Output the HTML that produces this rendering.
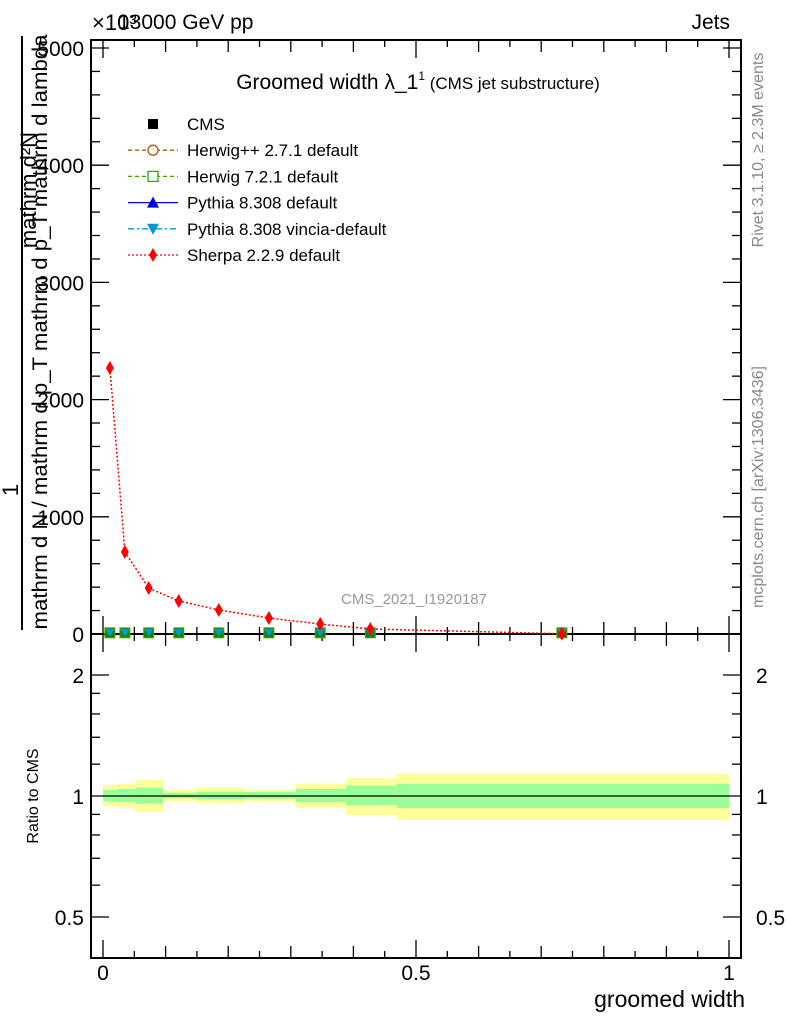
<!DOCTYPE html>
<html><head><meta charset="utf-8"><style>
body{margin:0;background:#fff;font-family:"Liberation Sans",sans-serif}
svg text{font-family:"Liberation Sans",sans-serif}
</style></head><body>
<svg id="c" width="786" height="1024" viewBox="0 0 786 1024" xmlns="http://www.w3.org/2000/svg">
<text x="92" y="30" font-size="22">×10³</text>
<text x="118" y="29" font-size="21">13000 GeV pp</text>
<text x="730" y="29" font-size="21" text-anchor="end">Jets</text>
<text x="418" y="89" font-size="21" text-anchor="middle">Groomed width λ_1<tspan font-size="12" dy="-9">1</tspan><tspan font-size="17" dy="9"> (CMS jet substructure)</tspan></text>
<text x="414" y="604" font-size="15" fill="#999" text-anchor="middle">CMS_2021_I1920187</text>
<text transform="translate(763,150) rotate(-90)" font-size="16" fill="#888" text-anchor="middle">Rivet 3.1.10, ≥ 2.3M events</text>
<text transform="translate(763,487) rotate(-90)" font-size="16" fill="#888" text-anchor="middle">mcplots.cern.ch [arXiv:1306.3436]</text>
<g>
<text transform="translate(36,190) rotate(-90)" font-size="22" text-anchor="middle">mathrm d²N</text>
<text transform="translate(18,490) rotate(-90)" font-size="22" text-anchor="middle">1</text>
<line x1="22" y1="36" x2="22" y2="630" stroke="#000" stroke-width="2"/>
<text transform="translate(47,332) rotate(-90)" font-size="21" text-anchor="middle" textLength="595" lengthAdjust="spacingAndGlyphs">mathrm d N / mathrm d p_T mathrm d p_T mathrm d lambda</text>
</g>
<text transform="translate(38,796) rotate(-90)" font-size="16" text-anchor="middle">Ratio to CMS</text>
<text x="745" y="1007" font-size="23" text-anchor="end">groomed width</text>
<g id="main"></g><g id="ratio"></g><g id="legend"></g>
</svg>
<script>
const cmsX=[0.011,0.035,0.073,0.121,0.185,0.265,0.347,0.427,0.733];
const cmsY=[10,10,10,10,10,10,10,10,10];
const sherpaX=[0.011,0.035,0.073,0.121,0.185,0.265,0.347,0.427,0.733];
const sherpaY=[2270,700,392,282,205,136,85,43,2];
const bandEdges=[0,0.021,0.051,0.096,0.149,0.227,0.308,0.388,0.469,1.0];
const yellowHi=[1.065,1.073,1.096,1.035,1.047,1.037,1.073,1.108,1.136];
const yellowLo=[0.943,0.937,0.914,0.972,0.959,0.972,0.935,0.897,0.871];
const greenHi=[1.035,1.041,1.049,1.019,1.025,1.023,1.041,1.061,1.073];
const greenLo=[0.970,0.966,0.957,0.987,0.981,0.985,0.966,0.948,0.934];
const yTicks=[0,1000,2000,3000,4000,5000];
const yTickLabels=["0","1000","2000","3000","4000","5000"];
const rTicks=[0.5,1,2];
const rTickLabels=["0.5","1","2"];
const xTickLabels=["0","0.5","1"];
const NS="http://www.w3.org/2000/svg";
const L=91,R=741,T=40,B=634,RT=634,RB=958;
const X=v=>103+v*626;
const Y=v=>634-v*0.1172;
const RY=v=>796-Math.log2(v)*121;
function el(p,t,a){const e=document.createElementNS(NS,t);for(const k in a)e.setAttribute(k,a[k]);p.appendChild(e);return e;}
const m=document.getElementById('main'),r=document.getElementById('ratio'),lg=document.getElementById('legend');
bandEdges.slice(0,-1).forEach((e,i)=>{
 const x1=X(e),x2=X(bandEdges[i+1]);
 const y=el(r,'rect',{x:x1,y:RY(yellowHi[i]),width:x2-x1,height:RY(yellowLo[i])-RY(yellowHi[i]),fill:'#ffff99'});
 
 
 const g=el(r,'rect',{x:x1,y:RY(greenHi[i]),width:x2-x1,height:RY(greenLo[i])-RY(greenHi[i]),fill:'#99ff99'});
 
 
});
el(r,'line',{x1:X(0),x2:X(1),y1:RY(1),y2:RY(1),stroke:'#000','stroke-width':1.3});
[[T,B],[RT,RB]].forEach(([t,b])=>{const f=el(m,'rect',{x:L,y:t,width:R-L,height:b-t,fill:'none',stroke:'#000','stroke-width':2});
 
 });
for(let i=0;i<=20;i++){const v=i*0.05,len=i%10==0?18:(i%2==0?12:7);
 [[B,-1],[T,1],[RB,-1],[RT,1]].forEach(([y0,d])=>el(m,'line',{x1:X(v),x2:X(v),y1:y0,y2:y0+d*len,stroke:'#000','stroke-width':1.3}));}
xTickLabels.forEach((s,i)=>{const t=el(m,'text',{x:X(i*0.5),y:980,'font-size':21,'text-anchor':'middle'});t.textContent=s;
 
 });
for(let v=0;v<=5000;v+=200){const len=v%1000==0?18:9;const y=Y(v);if(y<T)continue;
 el(m,'line',{x1:L,x2:L+len,y1:y,y2:y,stroke:'#000','stroke-width':1.3});el(m,'line',{x1:R,x2:R-len,y1:y,y2:y,stroke:'#000','stroke-width':1.3});}
yTicks.forEach((v,i)=>{const t=el(m,'text',{x:84,y:Y(v)+8,'font-size':21,'text-anchor':'end'});t.textContent=yTickLabels[i];
 
 });
[0.5,0.6,0.7,0.8,0.9,1,1.2,1.4,1.6,1.8,2].forEach(v=>{const len=rTicks.includes(v)?18:9;const y=RY(v);
 el(m,'line',{x1:L,x2:L+len,y1:y,y2:y,stroke:'#000','stroke-width':1.3});el(m,'line',{x1:R,x2:R-len,y1:y,y2:y,stroke:'#000','stroke-width':1.3});});
rTicks.forEach((v,i)=>{[84,756].forEach((x,j)=>{const t=el(m,'text',{x:x,y:RY(v)+8,'font-size':21,'text-anchor':j?'start':'end'});t.textContent=rTickLabels[i];
 
 });});
const sl=el(m,'polyline',{points:sherpaX.map((x,i)=>X(x)+','+Y(sherpaY[i])).join(' '),fill:'none',stroke:'#f00','stroke-width':1.5,'stroke-dasharray':'2,2'});


cmsX.forEach((x,i)=>{const cx=X(x),cy=Y(cmsY[i]);
 const s=el(m,'rect',{x:cx-5,y:cy-5,width:10,height:10,fill:'#008800',stroke:'#669900'});
 
 
 el(m,'polygon',{points:`${cx-5},${cy-4} ${cx+5},${cy-4} ${cx},${cy+4}`,fill:'#0099cc'});});
sherpaX.forEach((x,i)=>{const cx=X(x),cy=Y(sherpaY[i]);
 const d=el(m,'polygon',{points:`${cx},${cy-7} ${cx+4},${cy} ${cx},${cy+7} ${cx-4},${cy}`,fill:'#f00'});
 
 });
const leg=[["CMS","#000","none","sq"],["Herwig++ 2.7.1 default","#b35900","4,3","circ"],["Herwig 7.2.1 default","#33aa00","4,3","box"],["Pythia 8.308 default","#0000dd","none","tri"],["Pythia 8.308 vincia-default","#0099cc","6,3,2,3","itri"],["Sherpa 2.2.9 default","#f00","2,2","dia"]];
leg.forEach((e,i)=>{const y=124+i*26.2,cx=153;const g=el(lg,'g',{});
 
 
 if(e[3]!="sq")el(g,'line',{x1:128,x2:178,y1:y,y2:y,stroke:e[1],'stroke-width':1.3,'stroke-dasharray':e[2]});
 if(e[3]=="sq")el(g,'rect',{x:cx-5,y:y-5,width:10,height:10,fill:'#000'});
 if(e[3]=="circ")el(g,'circle',{cx:cx,cy:y,r:5,fill:'#fff',stroke:e[1],'stroke-width':1.3});
 if(e[3]=="box")el(g,'rect',{x:cx-5,y:y-5,width:10,height:10,fill:'#fff',stroke:e[1],'stroke-width':1.3});
 if(e[3]=="tri")el(g,'polygon',{points:`${cx-6},${y+5} ${cx+6},${y+5} ${cx},${y-6}`,fill:e[1]});
 if(e[3]=="itri")el(g,'polygon',{points:`${cx-6},${y-5} ${cx+6},${y-5} ${cx},${y+6}`,fill:e[1]});
 if(e[3]=="dia")el(g,'polygon',{points:`${cx},${y-7} ${cx+4},${y} ${cx},${y+7} ${cx-4},${y}`,fill:e[1]});
 const t=el(g,'text',{x:187,y:y+6,'font-size':17});t.textContent=e[0];});
</script>
</body></html>
